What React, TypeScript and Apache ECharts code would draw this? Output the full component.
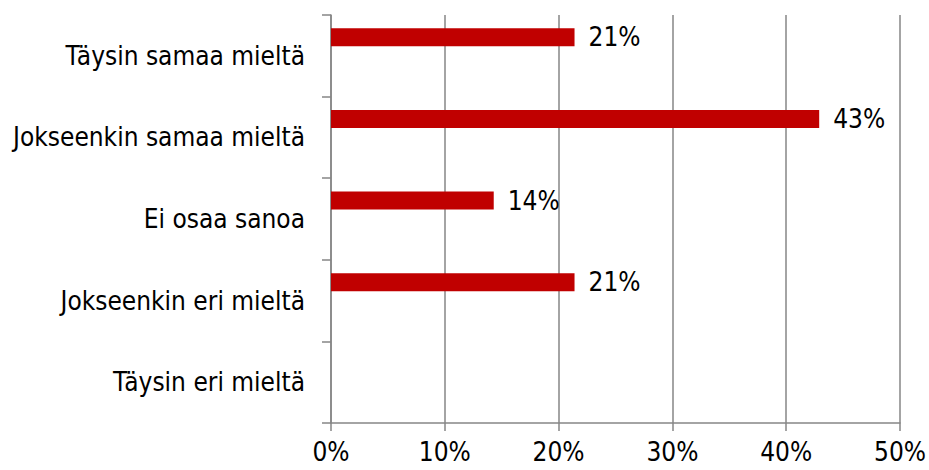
import React, { useEffect, useRef } from "react";
import * as echarts from "echarts";

const categories = [
  "Täysin samaa mieltä",
  "Jokseenkin samaa mieltä",
  "Ei osaa sanoa",
  "Jokseenkin eri mieltä",
  "Täysin eri mieltä",
];
const values = [21.4, 42.9, 14.3, 21.4, 0];
const emptySeries = [0, 0, 0, 0, 0];
const xTicks = [0, 10, 20, 30, 40, 50];

const FONT = "'DejaVu Sans Condensed', 'DejaVu Sans', sans-serif";
const GRAY = "#868686";
const FS = 26;

export default function App() {
  const ref = useRef<HTMLDivElement>(null);
  useEffect(() => {
    document.body.style.margin = "0";
    if (!ref.current) return;
    const chart = echarts.init(ref.current, null, { renderer: "svg" });
    chart.setOption({
      animation: false,
      grid: { left: 331, right: 29, top: 15, bottom: 47 },
      xAxis: {
        type: "value",
        min: xTicks[0],
        max: xTicks[xTicks.length - 1],
        interval: 10,
        axisLine: { show: true, lineStyle: { color: GRAY, width: 1.5 } },
        axisTick: { show: true, length: 8, lineStyle: { color: GRAY, width: 1.5 } },
        splitLine: { show: true, lineStyle: { color: GRAY, width: 1.5 } },
        axisLabel: {
          formatter: "{value}%",
          fontFamily: FONT,
          fontSize: FS,
          color: "#000",
          margin: 16,
        },
      },
      yAxis: {
        type: "category",
        inverse: true,
        data: categories,
        axisLine: { show: true, lineStyle: { color: GRAY, width: 1.5 } },
        axisTick: { show: true, length: 9, lineStyle: { color: GRAY, width: 1.5 } },
        axisLabel: {
          fontFamily: FONT,
          fontSize: FS,
          color: "#000",
          margin: 26,
        },
      },
      series: [
        {
          type: "bar",
          data: values,
          barWidth: 18,
          barGap: "105%",
          itemStyle: { color: "#C00000" },
          label: {
            show: true,
            position: "right",
            distance: 14,
            fontFamily: FONT,
            fontSize: FS,
            color: "#000",
            formatter: (p: any) => (p.value ? Math.round(p.value) + "%" : ""),
          },
        },
        {
          type: "bar",
          data: emptySeries,
          barWidth: 18,
          silent: true,
          itemStyle: { color: "transparent" },
        },
      ],
    });
    return () => chart.dispose();
  }, []);
  return <div ref={ref} style={{ width: 929, height: 470 }} />;
}
